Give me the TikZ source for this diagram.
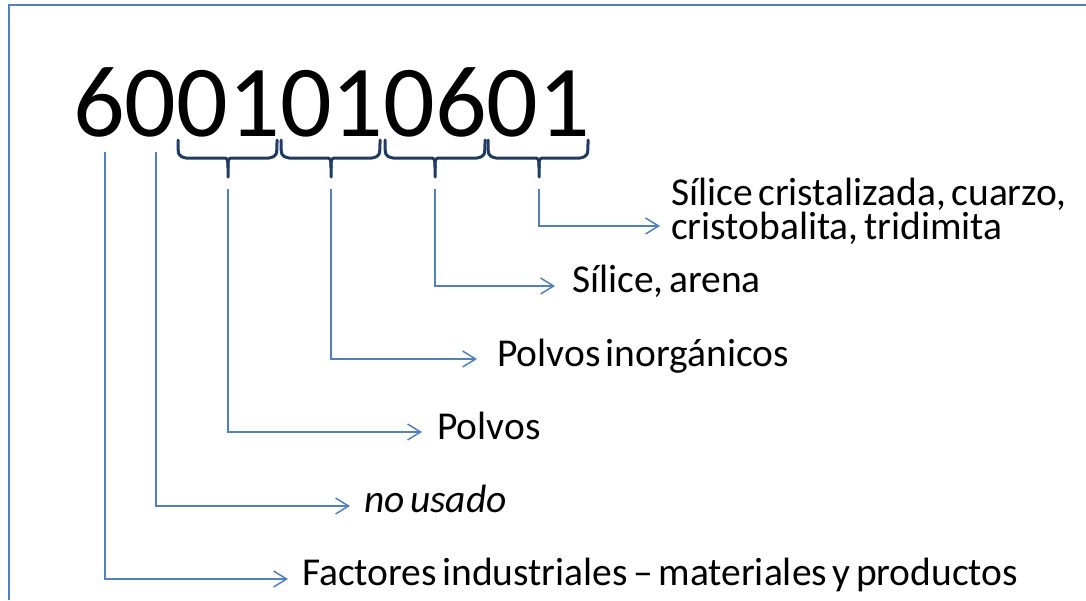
\documentclass[tikz,border=0pt]{standalone}
\usepackage{fontspec}
\setmainfont{Carlito}
\usetikzlibrary{arrows.meta}
\definecolor{lineblue}{HTML}{4F81BD}
\definecolor{bracenavy}{HTML}{1F3B64}
\newcommand{\pairbrace}[3]{% left x, right x, mid x
  \draw[bracestyle] (#1,140) .. controls (#1,156) .. (#1+8,158) -- (#3-6,158) .. controls (#3,158) .. (#3,168) -- (#3,177);
  \draw[bracestyle] (#2,140) .. controls (#2,156) .. (#2-8,158) -- (#3+6,158) .. controls (#3,158) .. (#3,168);
}
\newcommand{\lblfont}{\fontsize{39.5}{30}\selectfont\spaceskip=0.14em plus 0.05em minus 0.02em\relax}
\begin{document}
\begin{tikzpicture}[x=1pt,y=-1pt,
  conn/.style={draw=lineblue, line width=1.5pt, -{Straight Barb[length=13pt,width=16pt,line width=1.5pt]}},
  framestyle/.style={draw=lineblue, line width=1.8pt},
  bracestyle/.style={draw=bracenavy, line width=3pt, line cap=round, line join=round},
  lbl/.style={anchor=base west, inner sep=0pt, font=\lblfont, align=left},
  code/.style={anchor=base west, inner sep=0pt, font=\fontsize{102}{102}\selectfont},
]
\useasboundingbox (0,0) rectangle (1086,600);
\draw[framestyle] (9,600) -- (9,5) -- (1086,5);
\node[code] (num) at (73,136) {6001010601};
\pairbrace{178}{277}{228}
\pairbrace{281}{380}{331}
\pairbrace{385}{485}{435}
\pairbrace{488}{588}{539}
% start points
\coordinate (s1) at (539,189);
\coordinate (s2) at (435,189);
\coordinate (s3) at (331,189);
\coordinate (s4) at (228,189);
\coordinate (s5) at (156,152);
\coordinate (s6) at (105,152);
% end points
\coordinate (e1) at (660,226);
\coordinate (e2) at (555,286);
\coordinate (e3) at (477,359);
\coordinate (e4) at (422,432);
\coordinate (e5) at (350,506);
\coordinate (e6) at (288,579);
% labels
\node[lbl] (l1) at (671,239) {Sílice cristalizada, cuarzo,\\cristobalita, tridimita};
\node[lbl] (l2) at (572,292) {Sílice, arena};
\node[lbl] (l3) at (497,366) {Polvos inorgánicos};
\node[lbl] (l4) at (437,439) {Polvos};
\node[lbl] (l5) at (364,512) {\itshape no usado};
\node[lbl] (l6) at (302,585) {Factores industriales – materiales y productos};
% connectors
\draw[conn] (s1) |- (e1);
\draw[conn] (s2) |- (e2);
\draw[conn] (s3) |- (e3);
\draw[conn] (s4) |- (e4);
\draw[conn] (s5) |- (e5);
\draw[conn] (s6) |- (e6);
\end{tikzpicture}
\end{document}
